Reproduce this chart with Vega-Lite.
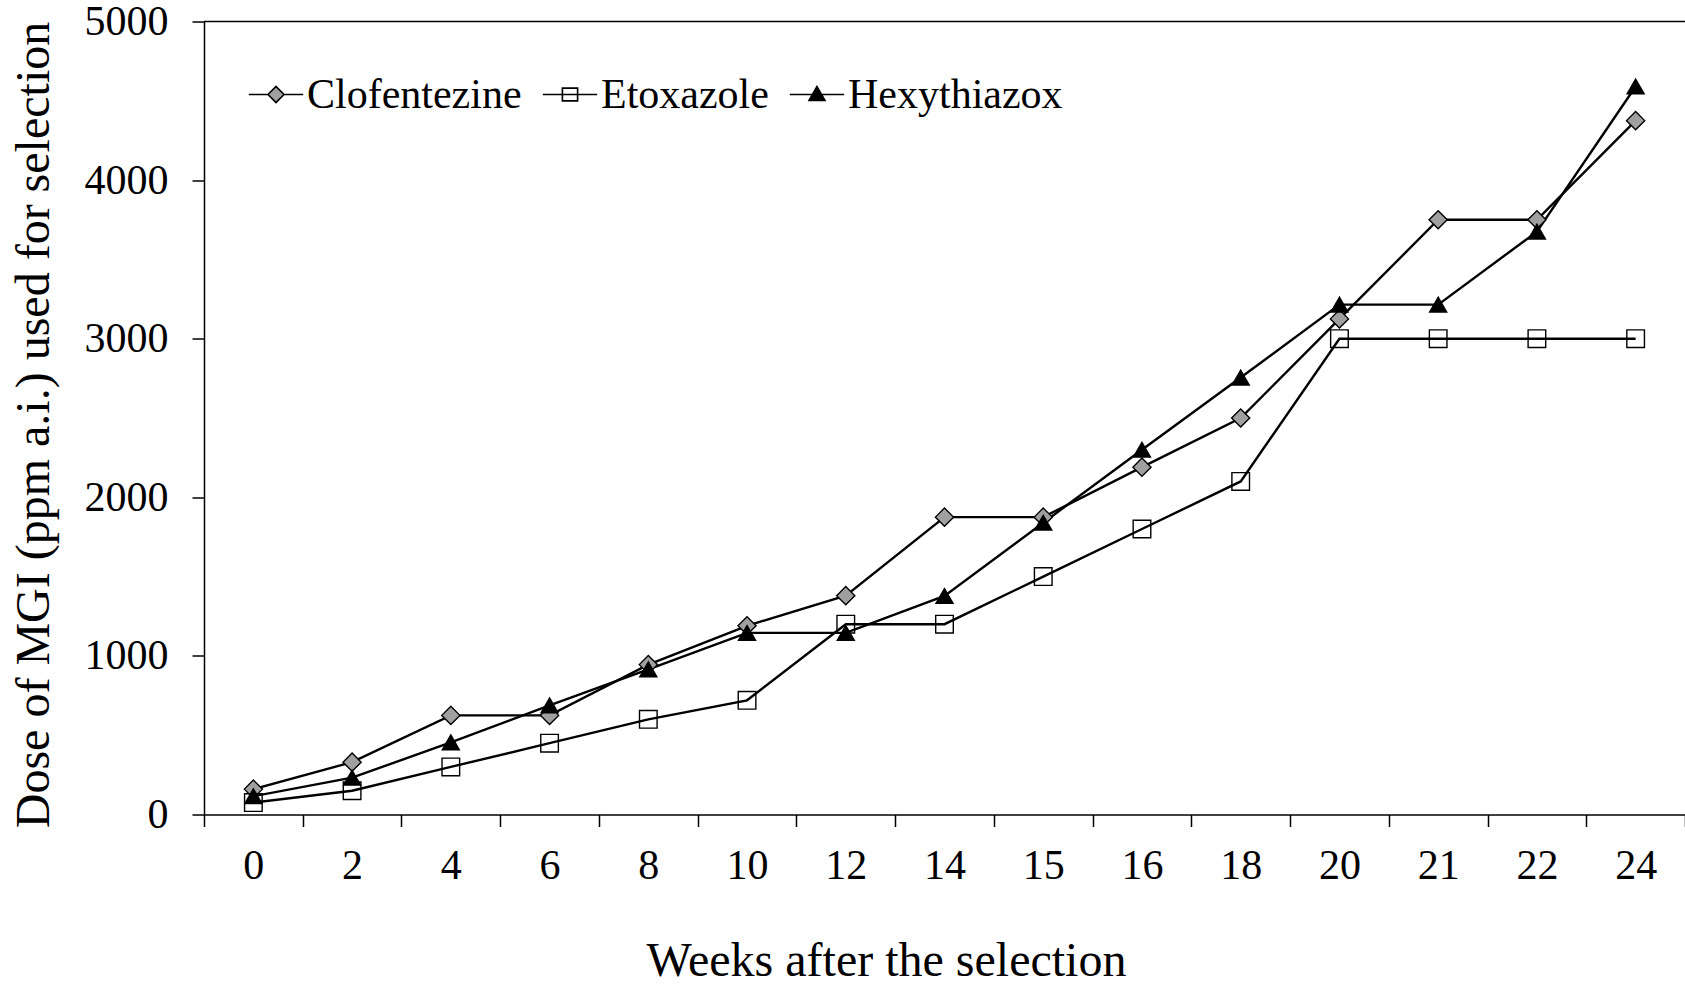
{
  "$schema": "https://vega.github.io/schema/vega-lite/v6.json",
  "autosize": "none",
  "width": 1481,
  "height": 793,
  "padding": {"left": 204, "top": 21.5, "right": 0, "bottom": 171.5},
  "background": "white",
  "config": {
    "font": "Liberation Serif",
    "view": {"stroke": null},
    "axis": {
      "domainColor": "black",
      "domainWidth": 1.5,
      "tickColor": "black",
      "tickWidth": 1.5,
      "tickSize": 12,
      "labelColor": "black",
      "labelFont": "Liberation Serif",
      "labelFontSize": 42,
      "titleColor": "black",
      "titleFont": "Liberation Serif",
      "titleFontSize": 48,
      "titleFontWeight": "normal",
      "grid": false
    },
    "legend": {
      "padding": 0
    }
  },
  "datasets": {
    "doses": [
      {"week": 0, "series": "Clofentezine", "dose": 160},
      {"week": 2, "series": "Clofentezine", "dose": 330},
      {"week": 4, "series": "Clofentezine", "dose": 625},
      {"week": 6, "series": "Clofentezine", "dose": 625},
      {"week": 8, "series": "Clofentezine", "dose": 945},
      {"week": 10, "series": "Clofentezine", "dose": 1190},
      {"week": 12, "series": "Clofentezine", "dose": 1380},
      {"week": 14, "series": "Clofentezine", "dose": 1875},
      {"week": 15, "series": "Clofentezine", "dose": 1875},
      {"week": 16, "series": "Clofentezine", "dose": 2190},
      {"week": 18, "series": "Clofentezine", "dose": 2500},
      {"week": 20, "series": "Clofentezine", "dose": 3125},
      {"week": 21, "series": "Clofentezine", "dose": 3750},
      {"week": 22, "series": "Clofentezine", "dose": 3750},
      {"week": 24, "series": "Clofentezine", "dose": 4375},
      {"week": 0, "series": "Etoxazole", "dose": 75},
      {"week": 2, "series": "Etoxazole", "dose": 150},
      {"week": 4, "series": "Etoxazole", "dose": 300},
      {"week": 6, "series": "Etoxazole", "dose": 450},
      {"week": 8, "series": "Etoxazole", "dose": 600},
      {"week": 10, "series": "Etoxazole", "dose": 720},
      {"week": 12, "series": "Etoxazole", "dose": 1200},
      {"week": 14, "series": "Etoxazole", "dose": 1200},
      {"week": 15, "series": "Etoxazole", "dose": 1500},
      {"week": 16, "series": "Etoxazole", "dose": 1800},
      {"week": 18, "series": "Etoxazole", "dose": 2100},
      {"week": 20, "series": "Etoxazole", "dose": 3000},
      {"week": 21, "series": "Etoxazole", "dose": 3000},
      {"week": 22, "series": "Etoxazole", "dose": 3000},
      {"week": 24, "series": "Etoxazole", "dose": 3000},
      {"week": 0, "series": "Hexythiazox", "dose": 115},
      {"week": 2, "series": "Hexythiazox", "dose": 232},
      {"week": 4, "series": "Hexythiazox", "dose": 455},
      {"week": 6, "series": "Hexythiazox", "dose": 688},
      {"week": 8, "series": "Hexythiazox", "dose": 915},
      {"week": 10, "series": "Hexythiazox", "dose": 1145},
      {"week": 12, "series": "Hexythiazox", "dose": 1145},
      {"week": 14, "series": "Hexythiazox", "dose": 1378},
      {"week": 15, "series": "Hexythiazox", "dose": 1840},
      {"week": 16, "series": "Hexythiazox", "dose": 2300},
      {"week": 18, "series": "Hexythiazox", "dose": 2755},
      {"week": 20, "series": "Hexythiazox", "dose": 3215},
      {"week": 21, "series": "Hexythiazox", "dose": 3215},
      {"week": 22, "series": "Hexythiazox", "dose": 3675},
      {"week": 24, "series": "Hexythiazox", "dose": 4590}
    ],
    "frame": [{"edge": "top"}]
  },
  "layer": [
    {
      "data": {"name": "doses"},
      "mark": {"type": "line", "color": "black", "strokeWidth": 2.4},
      "encoding": {
        "x": {
          "field": "week", "type": "ordinal",
          "scale": {"type": "band", "paddingInner": 0, "paddingOuter": 0},
          "axis": {
            "title": "Weeks after the selection",
            "labelAngle": 0,
            "tickBand": "extent",
            "labelPadding": 19,
            "titleX": 682,
            "titleY": 161,
            "titleBaseline": "alphabetic",
            "titleAlign": "center"
          }
        },
        "y": {
          "field": "dose", "type": "quantitative",
          "scale": {"domain": [0, 5000], "nice": false},
          "axis": {
            "title": "Dose of MGI (ppm a.i.) used for selection",
            "values": [0, 1000, 2000, 3000, 4000, 5000],
            "format": "d",
            "labelPadding": 24,
            "titleX": -156,
            "titleY": 403,
            "titleAngle": -90,
            "titleBaseline": "alphabetic",
            "titleAlign": "center"
          }
        },
        "detail": {"field": "series"}
      }
    },
    {
      "data": {"name": "frame"},
      "mark": {"type": "rule", "color": "black", "strokeWidth": 1.5},
      "encoding": {
        "y": {"datum": 5000, "type": "quantitative"}
      }
    },
    {
      "data": {"name": "doses"},
      "mark": {"type": "point", "filled": true, "stroke": "black", "strokeWidth": 1.4, "opacity": 1},
      "encoding": {
        "x": {"field": "week", "type": "ordinal"},
        "y": {"field": "dose", "type": "quantitative"},
        "shape": {
          "field": "series", "type": "nominal",
          "scale": {"domain": ["Clofentezine", "Etoxazole", "Hexythiazox"], "range": ["diamond", "square", "triangle-up"]},
          "legend": null
        },
        "fill": {
          "field": "series", "type": "nominal",
          "scale": {"domain": ["Clofentezine", "Etoxazole", "Hexythiazox"], "range": ["#A0A0A0", "transparent", "black"]},
          "legend": null
        },
        "size": {
          "field": "series", "type": "nominal",
          "scale": {"domain": ["Clofentezine", "Etoxazole", "Hexythiazox"], "range": [330, 290, 420]},
          "legend": null
        }
      }
    },
    {
      "data": {"name": "doses"},
      "mark": {"type": "point", "filled": true, "stroke": "black", "strokeWidth": 1.4, "opacity": 0},
      "encoding": {
        "x": {"field": "week", "type": "ordinal"},
        "y": {"field": "dose", "type": "quantitative"},
        "shape": {
          "field": "series", "type": "nominal",
          "scale": {"domain": ["Clofentezine", "Etoxazole", "Hexythiazox"], "range": [
            "M-3.4,0L-1,0M1,0L3.4,0M-1,0L0,-1L1,0L0,1Z",
            "M-3.4,0L3.4,0M-0.95,-0.8L0.95,-0.8L0.95,0.8L-0.95,0.8Z",
            "M-3.4,0L3.4,0M0,-1L-1,0.75L1,0.75Z"
          ]},
          "legend": {
            "title": null,
            "orient": "none",
            "legendX": 51,
            "legendY": 52,
            "direction": "horizontal",
            "symbolSize": 256,
            "symbolOpacity": 1,
            "symbolStrokeColor": "black",
            "symbolStrokeWidth": 1.5,
            "labelFont": "Liberation Serif",
            "labelFontSize": 42,
            "labelColor": "black",
            "labelLimit": 600,
            "labelOffset": 10,
            "columnPadding": 17,
            "padding": 0,
            "encode": {
              "symbols": {"update": {"size": {"value": 256}, "stroke": {"value": "black"}, "strokeWidth": {"value": 1.6}, "opacity": {"value": 1}, "strokeOpacity": {"value": 1}, "fillOpacity": {"value": 1}}}
            }
          }
        },
        "fill": {
          "field": "series", "type": "nominal",
          "scale": {"domain": ["Clofentezine", "Etoxazole", "Hexythiazox"], "range": ["#A0A0A0", "white", "black"]},
          "legend": {
            "title": null,
            "orient": "none",
            "legendX": 51,
            "legendY": 52,
            "direction": "horizontal",
            "symbolSize": 256,
            "symbolOpacity": 1,
            "symbolStrokeColor": "black",
            "symbolStrokeWidth": 1.5,
            "labelFont": "Liberation Serif",
            "labelFontSize": 42,
            "labelColor": "black",
            "labelLimit": 600,
            "labelOffset": 10,
            "columnPadding": 17,
            "padding": 0,
            "encode": {
              "symbols": {"update": {"size": {"value": 256}, "stroke": {"value": "black"}, "strokeWidth": {"value": 1.6}, "opacity": {"value": 1}, "strokeOpacity": {"value": 1}, "fillOpacity": {"value": 1}}}
            }
          }
        }
      }
    }
  ],
  "resolve": {"scale": {"shape": "independent", "fill": "independent", "size": "independent"}}
}
